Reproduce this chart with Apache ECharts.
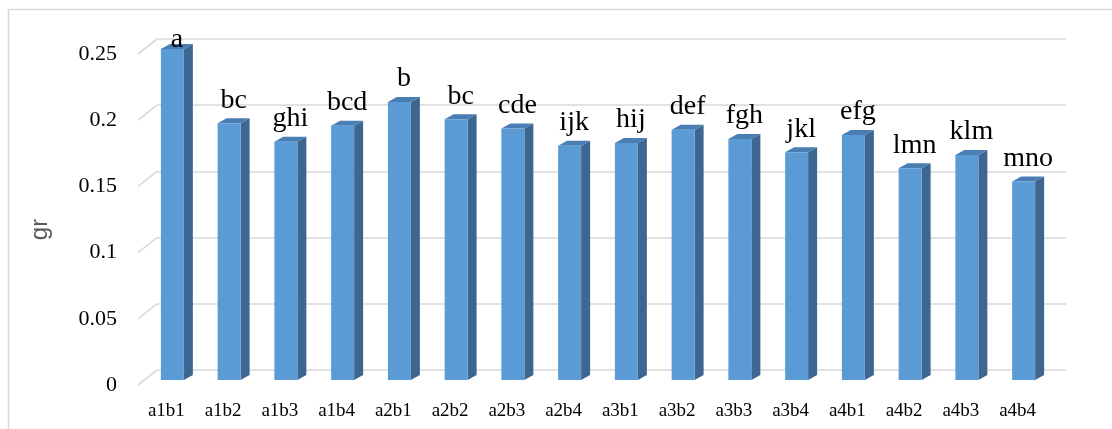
<!DOCTYPE html>
<html>
<head>
<meta charset="utf-8">
<script src="https://cdn.jsdelivr.net/npm/echarts@6/dist/echarts.min.js"></script>
<style>
  html, body { margin: 0; padding: 0; background: #fff; }
  #chart { width: 1112px; height: 429px; }
</style>
</head>
<body>
<div id="chart"></div>
<script>
// Treatment combinations on the category axis
const categories = ['a1b1', 'a1b2', 'a1b3', 'a1b4', 'a2b1', 'a2b2', 'a2b3', 'a2b4',
                    'a3b1', 'a3b2', 'a3b3', 'a3b4', 'a4b1', 'a4b2', 'a4b3', 'a4b4'];
// Mean values (gr)
const values = [0.25, 0.194, 0.180, 0.192, 0.210, 0.197, 0.190, 0.177,
                0.179, 0.189, 0.182, 0.172, 0.185, 0.160, 0.170, 0.150];
// Significance letters above each bar
const letters = ['a', 'bc', 'ghi', 'bcd', 'b', 'bc', 'cde', 'ijk',
                 'hij', 'def', 'fgh', 'jkl', 'efg', 'lmn', 'klm', 'mno'];
// Value-axis ticks
const yTicks = [0, 0.05, 0.1, 0.15, 0.2, 0.25];

const Y_MIN = 0, Y_MAX = 0.25, Y_STEP = 0.05;
const DEPTH_X = 9, DEPTH_Y = 5;          // bar depth
const WALL_DX = 19, WALL_DY = 15;        // floor/wall depth

const FRONT = '#5b9bd5', SIDE = '#3d6790', TOP = '#4a7db3';
const GRID_LINE = '#d9d9d9';

const chart = echarts.init(document.getElementById('chart'));

chart.setOption({
  backgroundColor: '#ffffff',
  animation: false,
  graphic: [{
    type: 'rect',
    shape: { x: 8.5, y: 9.5, width: 1200, height: 600 },
    style: { fill: 'none', stroke: '#d9d9d9', lineWidth: 1.5 },
    silent: true, z: -10
  }],
  grid: [
    // bars
    { left: 144, right: 60, top: 49, bottom: 49 },
    // back wall
    { left: 157, right: 46, top: 39, bottom: 59 },
    // front edge: axis labels
    { left: 138, right: 66, top: 54, bottom: 44 }
  ],
  xAxis: [
    { gridIndex: 0, type: 'category', data: categories, show: false },
    { gridIndex: 1, type: 'category', data: categories, show: false },
    {
      gridIndex: 2, type: 'category', data: categories,
      axisLine: { show: false }, axisTick: { show: false },
      axisLabel: {
        color: '#000', fontFamily: 'Liberation Serif', fontSize: 19, margin: 17
      }
    }
  ],
  yAxis: [
    { gridIndex: 0, type: 'value', min: Y_MIN, max: Y_MAX, interval: Y_STEP, show: false },
    {
      gridIndex: 1, type: 'value', min: Y_MIN, max: Y_MAX, interval: Y_STEP,
      axisLine: { show: false }, axisTick: { show: false }, axisLabel: { show: false },
      splitLine: { show: true, lineStyle: { color: GRID_LINE, width: 1.6 } }
    },
    {
      gridIndex: 2, type: 'value', min: Y_MIN, max: Y_MAX, interval: Y_STEP,
      axisLine: { show: false }, axisTick: { show: false },
      splitLine: { show: false },
      axisLabel: {
        color: '#000', fontFamily: 'Liberation Serif', fontSize: 22, margin: 21
      },
      name: 'gr', nameLocation: 'middle', nameGap: 86,
      nameTextStyle: {
        color: '#595959', fontFamily: 'Liberation Sans', fontSize: 24,
        padding: [0, 20, 0, 0]
      }
    }
  ],
  series: [
    {
      // diagonal stubs joining each tick to the back wall
      type: 'custom',
      xAxisIndex: 1, yAxisIndex: 1,
      data: yTicks.map(v => [0, v]),
      renderItem: function (params, api) {
        const p = api.coord([0, api.value(1)]);
        const x0 = params.coordSys.x;
        return {
          type: 'line',
          shape: { x1: x0 - WALL_DX, y1: p[1] + WALL_DY, x2: x0, y2: p[1] },
          style: { stroke: GRID_LINE, lineWidth: 1.6 },
          silent: true
        };
      },
      z: 1
    },
    {
      // 3-D style bars with letter labels
      type: 'custom',
      xAxisIndex: 0, yAxisIndex: 0,
      data: values.map((v, i) => [i, v, letters[i]]),
      renderItem: function (params, api) {
        const i = api.value(0);
        const v = api.value(1);
        const band = api.size([1, 0])[0];
        const w = band * 0.405;
        const top = api.coord([i, v]);
        const base = api.coord([i, 0]);
        const x = top[0] - w / 2;
        const yT = top[1], yB = base[1];
        const label = letters[params.dataIndex];
        return {
          type: 'group',
          children: [
            {
              type: 'polygon',
              shape: { points: [[x + w, yT], [x + w + DEPTH_X, yT - DEPTH_Y],
                                [x + w + DEPTH_X, yB - DEPTH_Y], [x + w, yB]] },
              style: { fill: SIDE }
            },
            {
              type: 'polygon',
              shape: { points: [[x, yT], [x + DEPTH_X, yT - DEPTH_Y],
                                [x + w + DEPTH_X, yT - DEPTH_Y], [x + w, yT]] },
              style: { fill: TOP }
            },
            {
              type: 'rect',
              shape: { x: x, y: yT, width: w, height: yB - yT },
              style: { fill: FRONT }
            },
            {
              type: 'text',
              style: {
                text: label,
                x: x + (w + DEPTH_X) / 2,
                y: Math.max(yT - 9, 54),
                align: 'center', verticalAlign: 'bottom',
                fill: '#000', fontFamily: 'Liberation Serif', fontSize: 28
              }
            }
          ]
        };
      },
      z: 5
    }
  ]
});
</script>
</body>
</html>
